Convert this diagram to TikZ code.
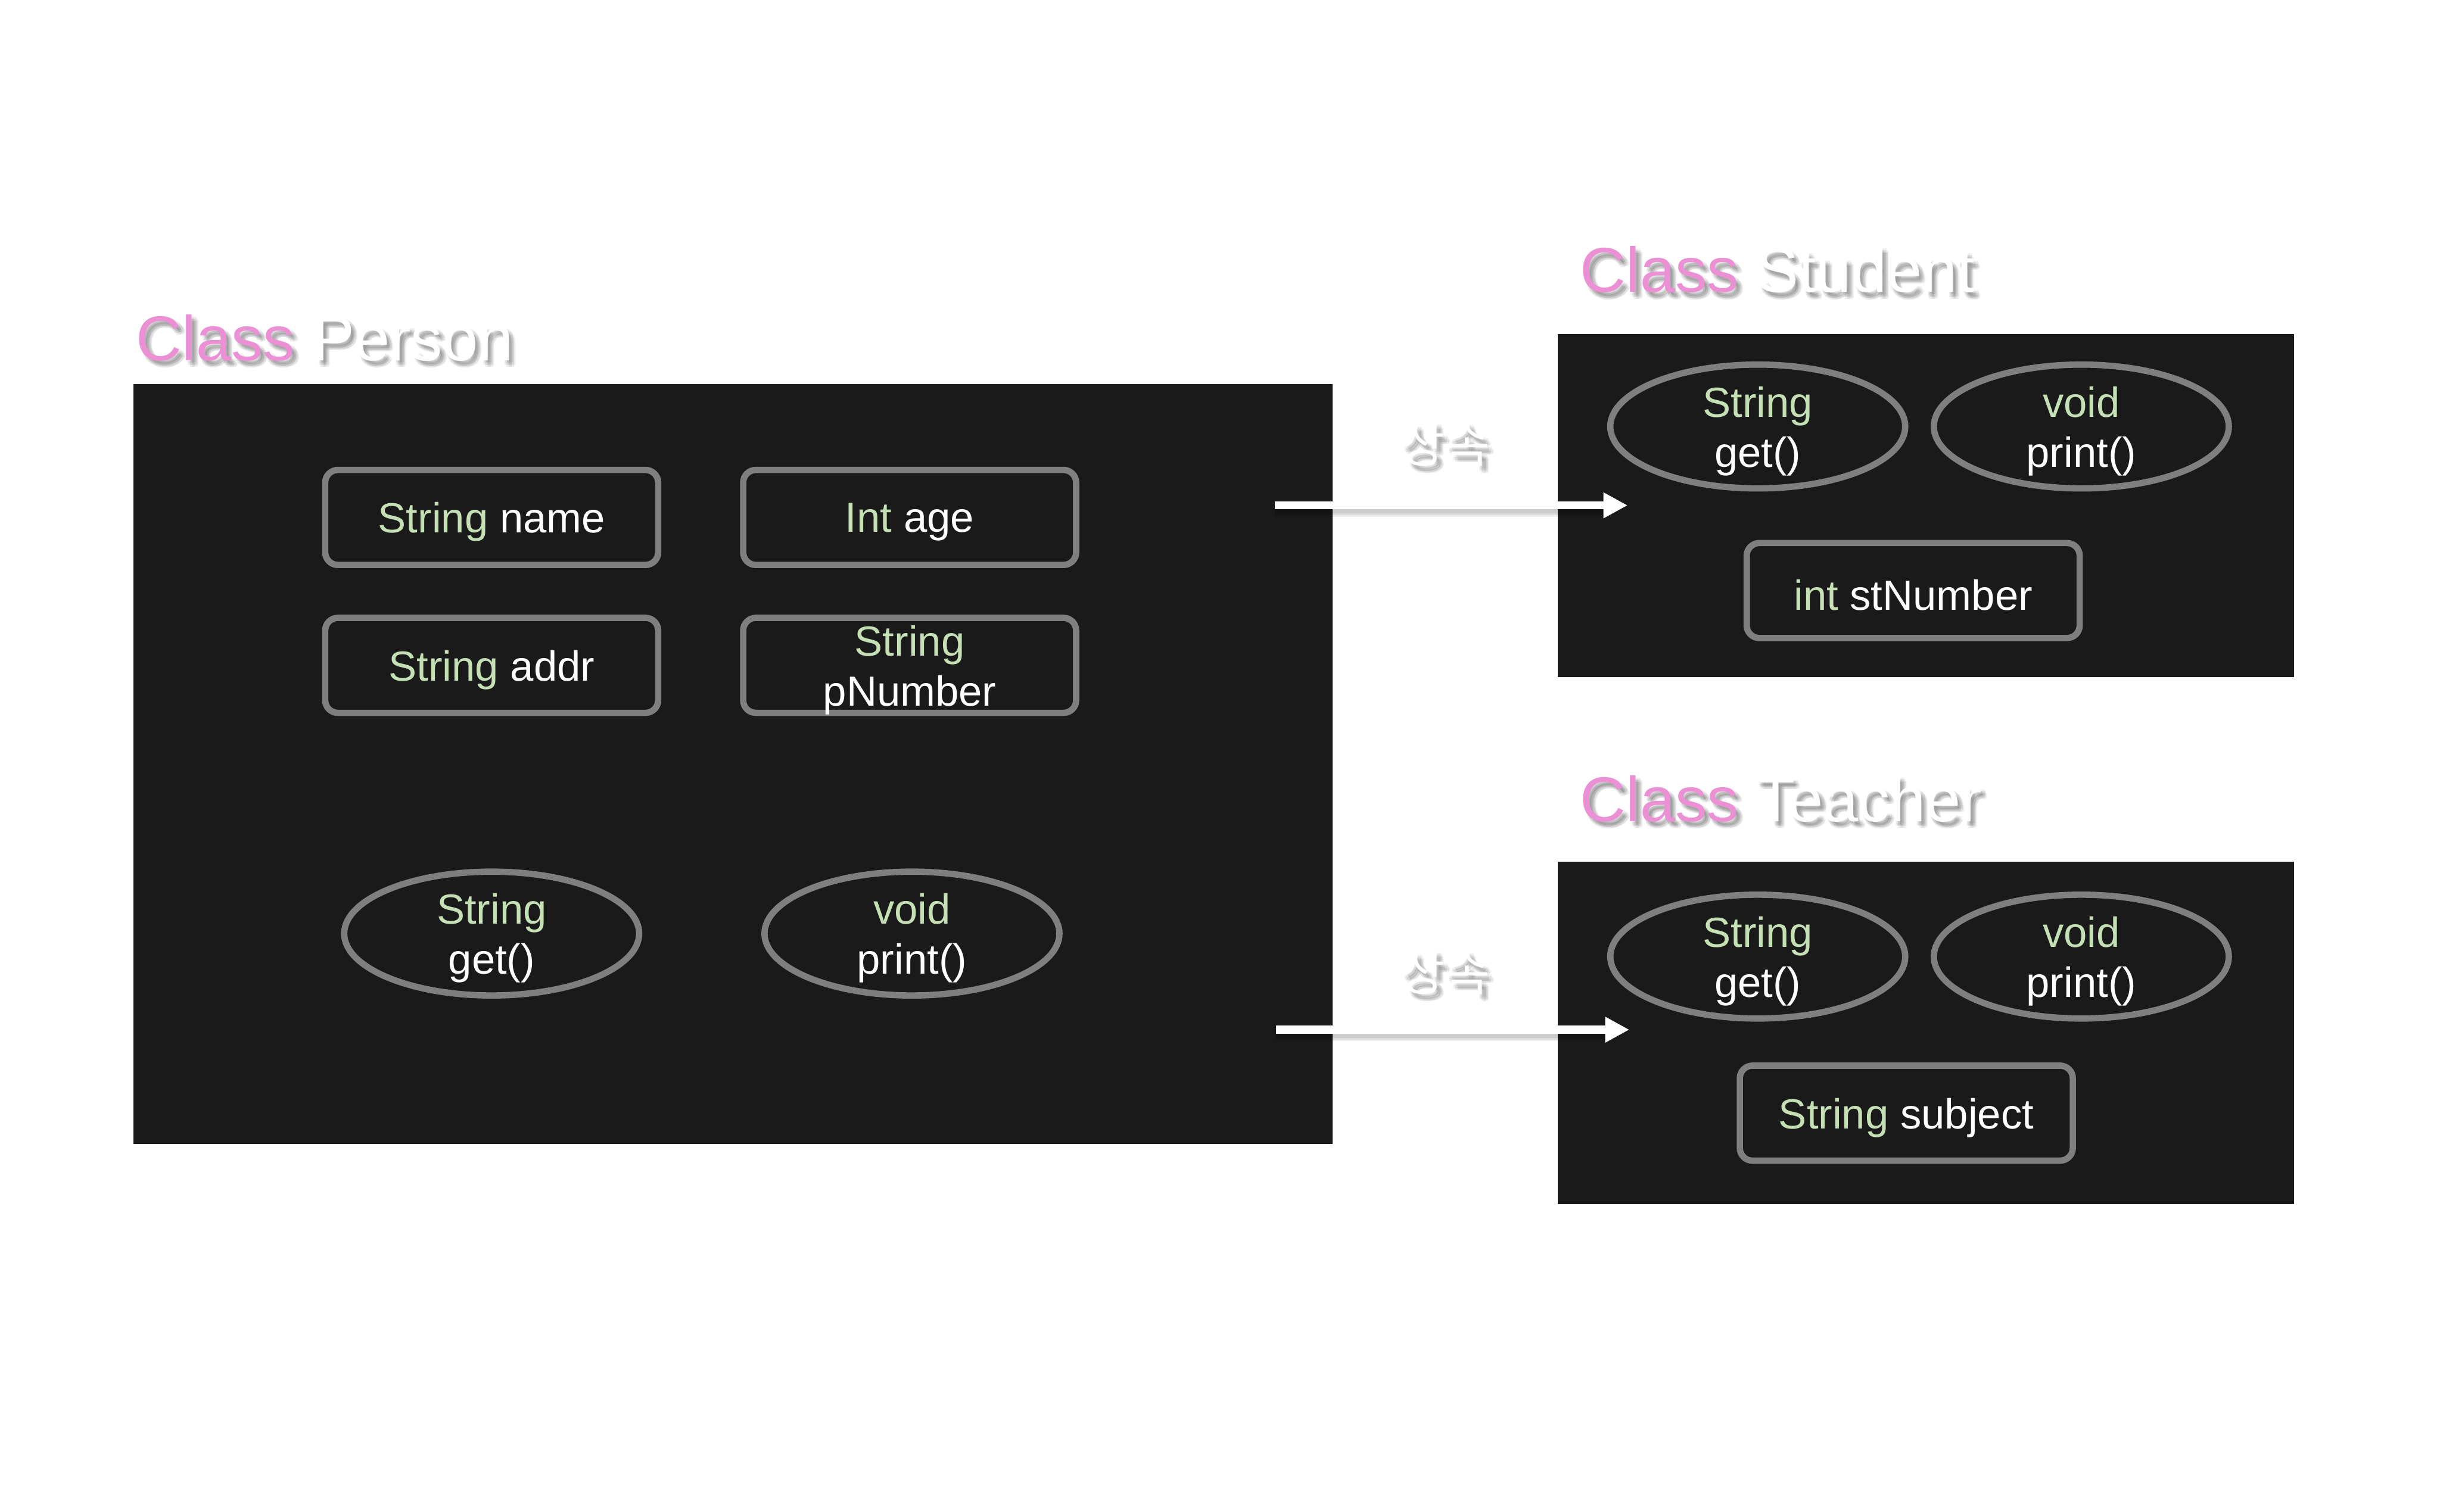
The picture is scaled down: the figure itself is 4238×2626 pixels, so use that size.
\documentclass[tikz,border=0pt]{standalone}
\usepackage{fontspec}
\setmainfont{Liberation Sans}
\newfontfamily\krfont{Noto Sans CJK KR}
\usetikzlibrary{shapes.geometric,arrows.meta}
\definecolor{panelbg}{HTML}{1A1A1A}
\definecolor{outl}{HTML}{7F7F7F}
\definecolor{tgreen}{HTML}{C5E0B4}
\definecolor{tpink}{HTML}{EC90D6}
\newcommand\fsz{\fontsize{20.8pt}{24.8pt}\selectfont}
\newcommand\tsz{\fontsize{31.3pt}{36pt}\selectfont}
\newcommand\ksz{\fontsize{24pt}{28pt}\selectfont\krfont}
\newcommand\tg[1]{\textcolor{tgreen}{#1}}
\newcommand\softshadow[4]{%
  \foreach \dx/\dy [count=\k] in {4/6,7/9,10/12,6/12,10/7,3/9,8/4,12/10} {
    \node[#3, text=black, text opacity=0.055] (#1-\k) at ([shift={(\dx,\dy)}]#2) {#4};
  }}
\begin{document}
\begin{tikzpicture}[x=0.01cm,y=-0.01cm,
  panel/.style={fill=panelbg, draw=none, inner sep=0pt},
  field/.style={draw=outl, line width=0.11cm, rounded corners=0.22cm, fill=panelbg,
    minimum width=5.78cm, minimum height=1.65cm, inner sep=0pt},
  method/.style={ellipse, draw=outl, line width=0.11cm, fill=panelbg,
    minimum width=5.12cm, minimum height=2.15cm, inner sep=0pt},
  mtext/.style={font=\fsz, align=center, text=white, inner sep=0pt},
  ttl/.style={font=\tsz, anchor=base west, inner sep=0pt},
  kr/.style={font=\ksz, inner sep=0pt},
  inh/.style={white, line width=0.14cm, -{Triangle[length=0.42cm,width=0.42cm]}},
  inhsh/.style={black, line width=0.14cm, opacity=0.07},
]
\useasboundingbox (0,0) rectangle (4238,2626);
\fill[white] (0,0) rectangle (4238,2626);

% titles
\coordinate (tP) at (236,626);
\coordinate (tS) at (2744,508);
\coordinate (tT) at (2744,1427);
\softshadow{tPs}{tP}{ttl}{Class Person}
\softshadow{tSs}{tS}{ttl}{Class Student}
\softshadow{tTs}{tT}{ttl}{Class Teacher}
\node[ttl, text=white] (titleP) at (tP) {\textcolor{tpink}{Class} Person};
\node[ttl, text=white] (titleS) at (tS) {\textcolor{tpink}{Class} Student};
\node[ttl, text=white] (titleT) at (tT) {\textcolor{tpink}{Class} Teacher};

% panels
\node[panel, minimum width=20.82cm, minimum height=13.19cm] (person) at (1273,1327.5) {};
\node[panel, minimum width=12.78cm, minimum height=5.95cm] (student) at (3345,878.5) {};
\node[panel, minimum width=12.78cm, minimum height=5.95cm] (teacher) at (3345,1794.5) {};

% Person members
\node[field] (pname) at (854,899) {};
\node[mtext] (pnamet) at ([shift={(0,8)}]pname) {\tg{String} name};
\node[field] (page) at (1580,899) {};
\node[mtext] (paget) at ([shift={(0,8)}]page) {\tg{Int} age};
\node[field] (paddr) at (854,1156) {};
\node[mtext] (paddrt) at ([shift={(0,8)}]paddr) {\tg{String} addr};
\node[field] (pnum) at (1580,1156) {};
\node[mtext] (pnumt) at ([shift={(0,8)}]pnum) {\tg{String}\\pNumber};
\node[method] (pget) at (854,1622) {};
\node[mtext] (pgett) at ([shift={(0,8)}]pget) {\tg{String}\\get()};
\node[method] (pprint) at (1584,1622) {};
\node[mtext] (pprintt) at ([shift={(0,8)}]pprint) {\tg{void}\\print()};

% Student members
\node[method] (sget) at (3053,741) {};
\node[mtext] (sgett) at ([shift={(0,8)}]sget) {\tg{String}\\get()};
\node[method] (sprint) at (3615,741) {};
\node[mtext] (sprintt) at ([shift={(0,8)}]sprint) {\tg{void}\\print()};
\node[field] (snum) at (3323,1026) {};
\node[mtext] (snumt) at ([shift={(0,8)}]snum) {\tg{int} stNumber};

% Teacher members
\node[method] (tget) at (3053,1662) {};
\node[mtext] (tgett) at ([shift={(0,8)}]tget) {\tg{String}\\get()};
\node[method] (tprint) at (3615,1662) {};
\node[mtext] (tprintt) at ([shift={(0,8)}]tprint) {\tg{void}\\print()};
\node[field] (tsub) at (3311,1934) {};
\node[mtext] (tsubt) at ([shift={(0,8)}]tsub) {\tg{String} subject};

% inheritance arrows
\coordinate (a1s) at (2214,878);
\coordinate (a1e) at (2827,878);
\coordinate (a2s) at (2216,1789);
\coordinate (a2e) at (2830,1789);
\foreach \o in {7,10,13} {
  \draw[inhsh] ([shift={(0,\o)}]a1s) -- ([shift={(-40,\o)}]a1e);
  \draw[inhsh] ([shift={(0,\o)}]a2s) -- ([shift={(-40,\o)}]a2e);
}
\draw[inh] (a1s) -- (a1e);
\draw[inh] (a2s) -- (a2e);

% labels
\coordinate (l1) at (2510,772);
\coordinate (l2) at (2510,1690);
\softshadow{l1s}{l1}{kr}{상속}
\softshadow{l2s}{l2}{kr}{상속}
\node[kr, text=white] (lab1) at (l1) {상속};
\node[kr, text=white] (lab2) at (l2) {상속};
\end{tikzpicture}
\end{document}
